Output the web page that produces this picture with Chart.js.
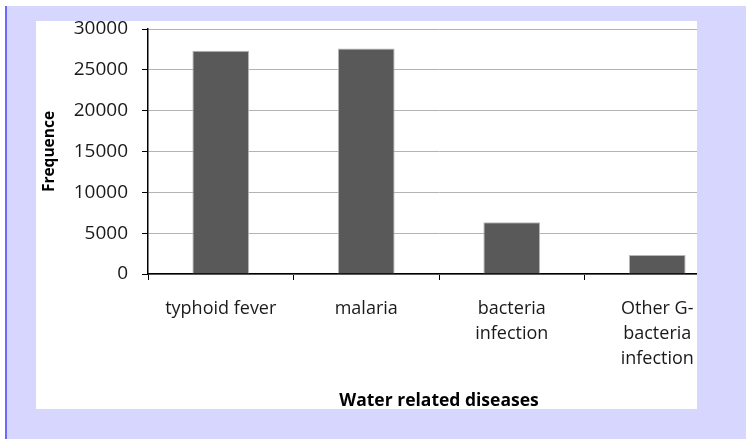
<!DOCTYPE html>
<html>
<head>
<meta charset="utf-8">
<script src="https://cdn.jsdelivr.net/npm/chart.js@4"></script>
<style>
  body { margin: 0; background: #fff; }
  #bg {
    position: absolute; left: 5px; top: 6px; width: 739px; height: 433px;
    background: #d6d6ff; border-left: 2px solid #6a6aff;
  }
  #panel {
    position: absolute; left: 36px; top: 21px; width: 661px; height: 388px;
    background: #fff; overflow: hidden;
  }
  #wrap { position: absolute; left: 0; top: 0; width: 694px; height: 395px; }
</style>
</head>
<body>
<div id="bg"></div>
<div id="panel"><div id="wrap"><canvas id="chart"></canvas></div></div>
<script>
const categories = ['typhoid fever', 'malaria', ['bacteria', 'infection'], ['Other G-', 'bacteria', 'infection']];
const frequence = [27350, 27600, 6330, 2330];
const yTicks = [0, 5000, 10000, 15000, 20000, 25000, 30000];

const font = '"Open Sans", Lato, sans-serif';

new Chart(document.getElementById('chart'), {
  type: 'bar',
  data: {
    labels: categories,
    datasets: [{
      label: 'Frequence',
      data: frequence,
      backgroundColor: '#595959',
      borderColor: '#b8b8b8',
      borderWidth: 1,
      barPercentage: 0.39,
      categoryPercentage: 1
    }]
  },
  options: {
    responsive: true,
    maintainAspectRatio: false,
    animation: false,
    layout: { padding: { top: 8, right: 0, left: 0, bottom: 0 } },
    plugins: { legend: { display: false }, tooltip: { enabled: false } },
    scales: {
      x: {
        afterFit: function (scale) {
          scale.height = 142;
          scale.paddingLeft = 0;
          scale.paddingRight = 0;
        },
        border: { color: '#000', width: 1.5 },
        grid: { drawOnChartArea: false, tickColor: '#000', tickLength: 6, offset: true },
        ticks: { color: '#1a1a1a', font: { family: font, size: 18, lineHeight: 1.39 }, padding: 16, maxRotation: 0, autoSkip: false },
        title: { display: true, text: 'Water related diseases', color: '#000', font: { family: font, size: 17.5, weight: 'bold' }, padding: 4 }
      },
      y: {
        min: 0,
        max: 30000,
        afterFit: function (scale) {
          scale.width = 112;
          scale.paddingTop = 0;
          scale.paddingBottom = 0;
        },
        afterBuildTicks: function (scale) { scale.ticks = yTicks.map(v => ({ value: v })); },
        border: { color: '#000', width: 1.5 },
        grid: { color: '#b3b3b3', tickColor: '#000', tickLength: 6 },
        ticks: {
          color: '#1a1a1a', font: { family: font, size: 19 }, padding: 14,
          callback: function (value) { return String(value); }
        },
        title: { display: true, text: 'Frequence', color: '#000', font: { family: font, size: 15.5, weight: 'bold' }, padding: 4 }
      }
    }
  }
});
</script>
</body>
</html>
